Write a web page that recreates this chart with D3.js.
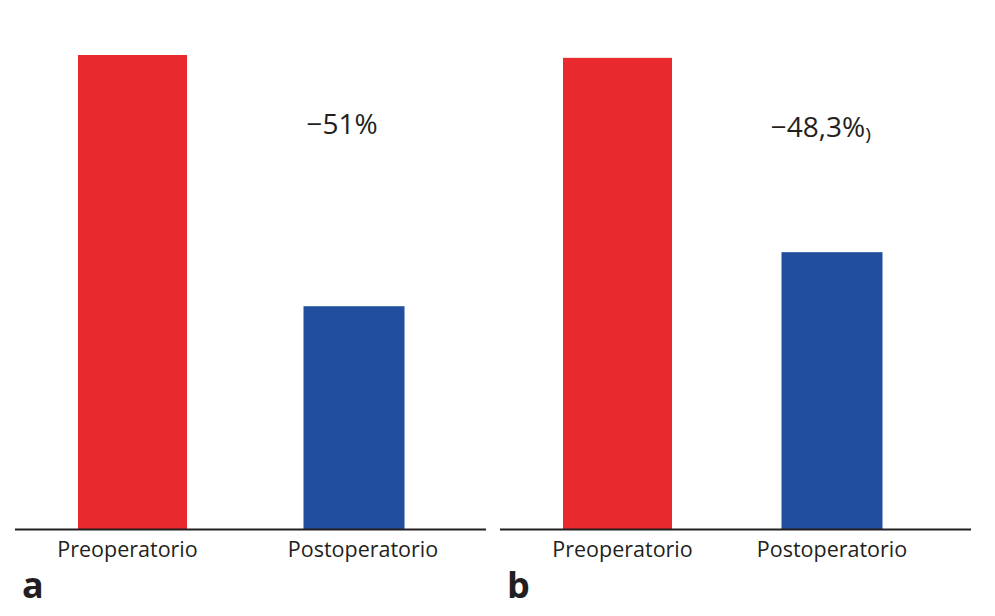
<!DOCTYPE html>
<html>
<head>
<meta charset="utf-8">
<script src="https://cdn.jsdelivr.net/npm/d3@7"></script>
<style>
  body { margin: 0; background: #fff; }
  text { font-family: "Open Sans", sans-serif; fill: #231f20; }
</style>
</head>
<body>
<div id="chart"></div>
<script>
// values (relative units, pre-op of panel a = 100)
var categories = ["Preoperatorio", "Postoperatorio"];
var panelNames = ["a", "b"];
var valuesA = [100, 47.0];
var valuesB = [99.4, 58.4];
var changeLabels = ["\u221251%", "\u221248,3%\u208E"];

var width = 995, height = 616
  , colors = ["#e8292e", "#214f9e"]
  , barW = [109, 101]
  , baseY = 529, topY = 55
  , axisLen = 471;

var svg = d3.select("#chart").append("svg")
    .attr("width", width).attr("height", height);

var y = d3.scaleLinear().domain([0, 100]).range([baseY, topY]);

var panels = [
  { name: panelNames[0], values: valuesA, label: changeLabels[0], left: 15,  right: 339, catDx: [-5, 9], labelX: 327, labelY: 134 },
  { name: panelNames[1], values: valuesB, label: changeLabels[1], left: 500, right: 332, catDx: [5, 0],  labelX: 321, labelY: 137 }
];

panels.forEach(function (p) {
  var g = svg.append("g").attr("transform", "translate(" + p.left + ",0)");

  // bar centres inside this panel
  var x = d3.scalePoint().domain(categories).range([117.5, p.right]);

  g.selectAll("rect").data(p.values).enter().append("rect")
    .attr("x", function (d, i) { return x(categories[i]) - barW[i] / 2; })
    .attr("width", function (d, i) { return barW[i]; })
    .attr("y", function (d) { return y(d); })
    .attr("height", function (d) { return baseY - y(d); })
    .attr("fill", function (d, i) { return colors[i]; });

  g.append("line")
    .attr("x1", 0).attr("x2", axisLen)
    .attr("y1", baseY + 0.5).attr("y2", baseY + 0.5)
    .attr("stroke", "#231f20").attr("stroke-width", 2);

  g.selectAll("text.cat").data(categories).enter().append("text")
    .attr("class", "cat")
    .attr("x", function (d, i) { return x(d) + p.catDx[i]; })
    .attr("y", 557)
    .attr("text-anchor", "middle")
    .attr("font-size", 21.5)
    .text(function (d) { return d; });

  g.append("text")
    .attr("x", p.labelX).attr("y", p.labelY)
    .attr("text-anchor", "middle")
    .attr("font-size", 28)
    .text(p.label);

  g.append("text")
    .attr("x", 7).attr("y", 598)
    .attr("font-size", 36).attr("font-weight", "bold")
    .text(p.name);
});
</script>
</body>
</html>
